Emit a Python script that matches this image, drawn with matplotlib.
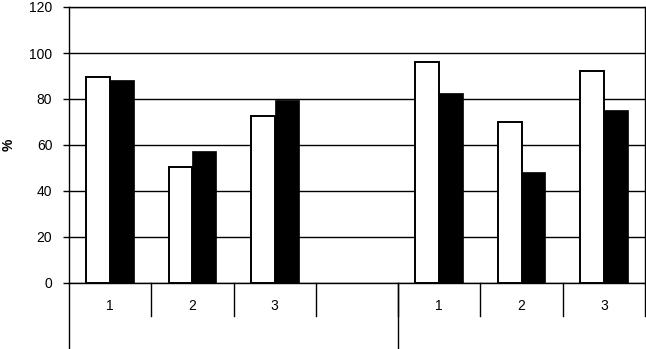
import numpy as np
import matplotlib.pyplot as plt
import matplotlib.transforms as mtransforms

plt.rcParams["font.family"] = ["Liberation Sans", "DejaVu Sans"]

# ── Data ──────────────────────────────────────────────────────
categories = ["1", "2", "3", "", "1", "2", "3"]
series_white = [89.4, 50.4, 72.4, np.nan, 95.9, 70.0, 92.3]
series_black = [88.3, 57.4, 79.6, np.nan, 82.6, 48.2, 75.3]
y_ticks = [0, 20, 40, 60, 80, 100, 120]

# ── Chart ─────────────────────────────────────────────────────
fig = plt.figure(figsize=(6.46, 3.49), dpi=100)
ax = fig.add_axes([69 / 646, 1 - 283 / 349, 576 / 646, 276 / 349])

x = np.arange(len(categories))
w = 0.29
ax.bar(x - w / 2, series_white, w, color="white", edgecolor="black", linewidth=1.4, zorder=3)
ax.bar(x + w / 2, series_black, w, color="black", edgecolor="black", linewidth=0.5, zorder=3)

ax.set_xlim(-0.5, len(categories) - 0.5)
ax.set_ylim(0, 120)
ax.set_yticks(y_ticks)
ax.tick_params(axis="y", length=4, width=1, labelsize=10, pad=8)
ax.set_xticks([])
ax.yaxis.grid(True, color="black", linewidth=1)
ax.set_axisbelow(True)
for s in ax.spines.values():
    s.set_linewidth(1)
ax.set_ylabel("%", fontsize=10, fontweight="bold", labelpad=10)

# category labels and separators below the axis
trans = mtransforms.blended_transform_factory(ax.transData, ax.transAxes)
for i, c in enumerate(categories):
    ax.text(i, -23 / 276, c, transform=trans, ha="center", va="center", fontsize=10)
for b in np.arange(0.5, len(categories), 1.0):
    ax.plot([b, b], [0, -33 / 276], transform=trans, color="black", lw=1, clip_on=False)
for b in [-0.5, 3.5]:
    ax.plot([b, b], [0, -70 / 276], transform=trans, color="black", lw=1, clip_on=False)

plt.savefig("out.png", dpi=100)
